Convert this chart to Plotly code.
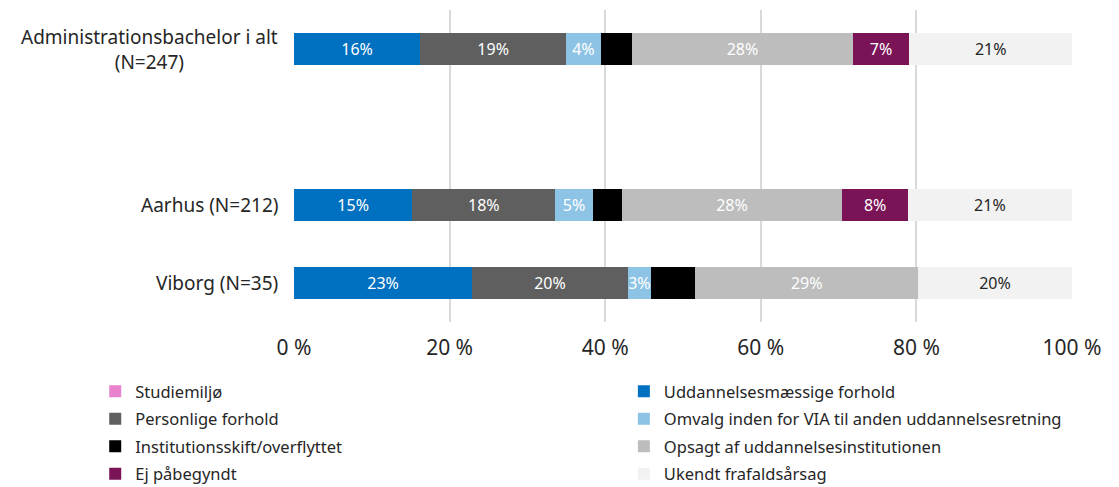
import plotly.graph_objects as go

# ─── Data ────────────────────────────────────────────────────────────────────
CATEGORIES = ["Viborg (N=35)", "Aarhus (N=212)", " ", "Administrationsbachelor i alt<br>(N=247)"]
BAR_ROWS = ["Viborg (N=35)", "Aarhus (N=212)", "Administrationsbachelor i alt<br>(N=247)"]

SERIES = [
    "Studiemiljø",
    "Uddannelsesmæssige forhold",
    "Personlige forhold",
    "Omvalg inden for VIA til anden uddannelsesretning",
    "Institutionsskift/overflyttet",
    "Opsagt af uddannelsesinstitutionen",
    "Ej påbegyndt",
    "Ukendt frafaldsårsag",
]

# values per series, ordered as BAR_ROWS (Viborg, Aarhus, i alt)
studiemiljo = [0, 0, 0]
uddannelse = [22.9, 15.2, 16.2]
personlige = [20.0, 18.4, 18.8]
omvalg = [3.0, 4.8, 4.4]
institution = [5.7, 3.7, 4.1]
opsagt = [28.6, 28.4, 28.3]
ej_begyndt = [0, 8.4, 7.3]
ukendt = [19.8, 21.1, 20.9]

VALUES = [studiemiljo, uddannelse, personlige, omvalg, institution, opsagt, ej_begyndt, ukendt]

COLORS = ["#E882CC", "#0070C0", "#5F5F5F", "#8DC3E5", "#000000", "#BDBDBD", "#7A1457", "#F2F2F2"]
LABEL_COLORS = ["white", "white", "white", "white", "black", "white", "white", "#262626"]

FONT = "Noto Sans, sans-serif"
TEXT = "#262626"

fig = go.Figure()

for i, (name, vals, color, lc) in enumerate(zip(SERIES, VALUES, COLORS, LABEL_COLORS)):
    fig.add_trace(go.Bar(
        x=vals,
        y=BAR_ROWS,
        orientation="h",
        name=name,
        legend="legend" if i % 2 == 0 else "legend2",   # two legend columns
        legendgroup=name,
        marker=dict(color=color, line=dict(width=0)),
        text=[f"{v:.0f}%" if v > 0 and color != "#000000" else "" for v in vals],
        textposition="inside",
        insidetextanchor="middle",
        textangle=0,
        textfont=dict(color=lc, size=16, family=FONT),
        constraintext="none",
    ))

# category labels (centered multi-line like the original)
for cat in BAR_ROWS:
    fig.add_annotation(
        x=0, xref="paper", y=cat, yref="y",
        text=cat, showarrow=False,
        xanchor="right", xshift=-14, align="center",
        font=dict(size=19, color=TEXT, family=FONT),
    )

legend_style = dict(
    orientation="v",
    yanchor="top",
    y=-0.167,
    xanchor="left",
    traceorder="grouped",
    tracegroupgap=3,
    font=dict(size=16.5, color=TEXT, family=FONT),
    itemwidth=30,
    bgcolor="rgba(0,0,0,0)",
)

fig.update_layout(
    barmode="stack",
    bargap=0.6,
    width=1119,
    height=487,
    plot_bgcolor="white",
    paper_bgcolor="white",
    font=dict(family=FONT, color=TEXT),
    margin=dict(l=286, r=55, t=2, b=173, autoexpand=False),
    xaxis=dict(
        range=[0, 100],
        tickvals=[0, 20, 40, 60, 80, 100],
        ticktext=["0 %", "20 %", "40 %", "60 %", "80 %", "100 %"],
        tickfont=dict(size=21, color=TEXT),
        ticklabelstandoff=11,
        showgrid=True,
        gridcolor="#D9D9D9",
        gridwidth=2,
        zeroline=False,
        showline=False,
        automargin=False,
    ),
    yaxis=dict(
        type="category",
        categoryorder="array",
        categoryarray=CATEGORIES,
        range=[-0.5, 3.5],
        showticklabels=False,
        showgrid=False,
        zeroline=False,
        automargin=False,
    ),
    showlegend=True,
    legend=dict(legend_style, x=-0.2555),
    legend2=dict(legend_style, x=0.424),
)

fig.write_html("out.html")
